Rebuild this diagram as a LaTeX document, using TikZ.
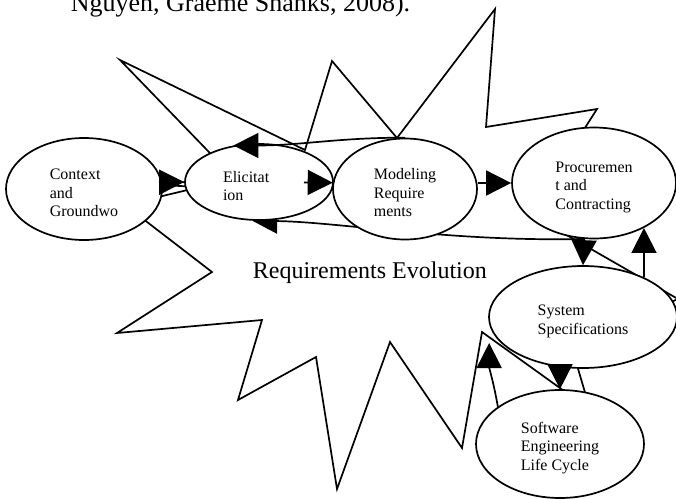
\documentclass[tikz,border=0pt]{standalone}
\usepackage{fontspec}
\setmainfont{Liberation Serif}
\usetikzlibrary{arrows.meta,shapes.geometric}
\pgfdeclarelayer{back}
\pgfsetlayers{back,main}
\newcommand\tpad{\rule{0pt}{19pt}}
\begin{document}
\begin{tikzpicture}[x=1pt,y=-1pt,line width=1.7pt,
  oval/.style={draw,ellipse,fill=white,inner sep=0pt,align=left,font=\fontsize{16}{18.5}\selectfont},
  arr/.style={line width=1.7pt,-{Triangle[length=25pt,width=25pt]}}]
\useasboundingbox (0,0) rectangle (676,498);
\clip (0,0) rectangle (676,498);
\node[anchor=base west,inner sep=0pt,font=\fontsize{26}{30}\selectfont] (cite) at (70,11) {Nguyen, Graeme Shanks, 2008).};
\node[oval,minimum width=156pt,minimum height=102pt] (ctx) at (84,189) {\tpad Context\\and\\Groundwo};
\node[oval,minimum width=148pt,minimum height=76pt,text width=72pt] (eli) at (259,182) {\tpad Elicitat\\ion};
\node[oval,minimum width=144pt,minimum height=101pt] (mod) at (405,189) {\tpad Modeling\\Require\\ments};
\node[oval,minimum width=164pt,minimum height=111pt] (pro) at (594,183) {\tpad Procuremen\\t and\\Contracting};
\node[oval,minimum width=188pt,minimum height=102pt] (sys) at (583,317) {\tpad System\\Specifications};
\node[oval,minimum width=168pt,minimum height=108pt] (sw) at (560,444) {\tpad Software\\Engineering\\Life Cycle};
\node[anchor=base west,inner sep=0pt,font=\fontsize{24}{28}\selectfont] (evo) at (252,278) {Requirements Evolution};
\draw[arr] (ctx.5) -- (eli.west);
\draw[arr,shorten <=45pt] (eli.center) -- (mod.175);
\draw[arr] (mod.east |- pro.west) -- (pro.west);
\draw[arr] (mod.north) to[out=180,in=0] (eli.125);
\draw[arr] (pro.-100) -- (sys.north);
\draw[arr] (sys.33) -- (pro.-42);
\draw[arr] (sys.south -| sw.north) -- (sw.north);
\draw[arr] (sw.149) to[out=100,in=-90] ([shift={(1,26)}]sys.west);
\begin{pgfonlayer}{back}
\begin{scope}[line width=1.7pt]
\clip (0,0) rectangle (676,498);
\draw (120,60) -- (305,150) -- (332,61) -- (397,138) -- (495,9) -- (486,127) -- (597,109) -- (530,214)
  -- (678,299) -- (571,345) -- (602,450) -- (585,406) -- (482,332) -- (462,448) -- (390,342) -- (337,489)
  -- (316,357) -- (238,400) -- (262,320) -- (117,333) -- (212,272) -- (125,205) -- (200,187) -- (140,184)
  -- (236,180) -- cycle;
\draw[arr] (pro.-100) .. controls (450,242) and (340,222) .. (eli.-100);
\end{scope}
\end{pgfonlayer}
\end{tikzpicture}
\end{document}
